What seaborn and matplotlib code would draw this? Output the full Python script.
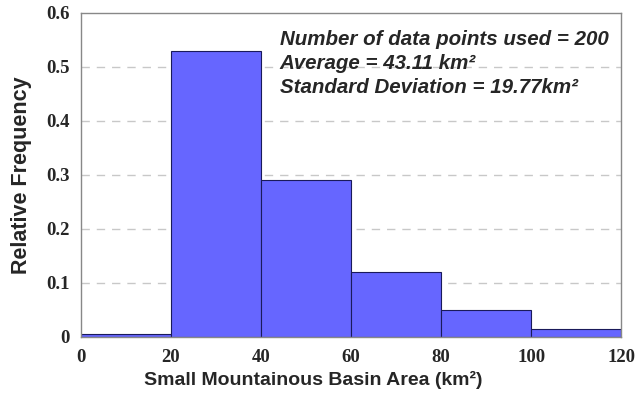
import numpy as np
import pandas as pd
import matplotlib
matplotlib.use("Agg")
import matplotlib.pyplot as plt
import seaborn as sns

# ==========================================================
# DATA
# ==========================================================

bin_edges = [0, 20, 40, 60, 80, 100, 120]
bin_centers = [10, 30, 50, 70, 90, 110]
rel_freq = [0.005, 0.53, 0.29, 0.12, 0.05, 0.015]

y_ticks = [0, 0.1, 0.2, 0.3, 0.4, 0.5, 0.6]
y_tick_labels = ["0", "0.1", "0.2", "0.3", "0.4", "0.5", "0.6"]

df = pd.DataFrame({"area": bin_centers, "freq": rel_freq})

# ==========================================================
# PLOT
# ==========================================================

sns.set_style("white")

fig = plt.figure(figsize=(6.43, 4.0), dpi=100)
ax = fig.add_axes([0.126, 0.158, 0.840, 0.810])

sns.histplot(
    data=df,
    x="area",
    weights="freq",
    bins=bin_edges,
    color="#6666FF",
    alpha=1,
    edgecolor="#1a1a5a",
    linewidth=0.8,
    ax=ax,
    zorder=2
)

ax.set_xlim(0, 120)
ax.set_ylim(0, 0.6)
ax.set_xticks(bin_edges)
ax.set_yticks(y_ticks)
ax.set_yticklabels(y_tick_labels)

for y in y_ticks[1:-1]:
    ax.axhline(y, color="#c8c8c8", linestyle=(0, (6, 5)), linewidth=1, zorder=1)

for lbl in ax.get_xticklabels() + ax.get_yticklabels():
    lbl.set_fontfamily("Liberation Serif")
    lbl.set_fontweight("bold")
    lbl.set_fontsize(13.5)

ax.tick_params(axis="x", length=0, pad=9)
ax.tick_params(axis="y", length=0, pad=8)

for s in ax.spines.values():
    s.set_color("#888888")
    s.set_linewidth(1.0)

ax.set_xlabel("Small Mountainous Basin Area (km²)",
              fontfamily="Liberation Sans", fontweight="bold", fontsize=14)
ax.xaxis.set_label_coords(0.43, -0.105)
ax.set_ylabel("Relative Frequency",
              fontfamily="Liberation Sans", fontweight="bold", fontsize=15.5)
ax.yaxis.set_label_coords(-0.09, 0.5)

txt = ("Number of data points used = 200\n"
       "Average = 43.11 km²\n"
       "Standard Deviation = 19.77km²")
ax.text(0.368, 0.948, txt, transform=ax.transAxes, va="top", ha="left",
        fontfamily="Liberation Sans", fontweight="bold", fontstyle="italic",
        fontsize=14.8, linespacing=1.36)

fig.savefig("out.png", dpi=100)
